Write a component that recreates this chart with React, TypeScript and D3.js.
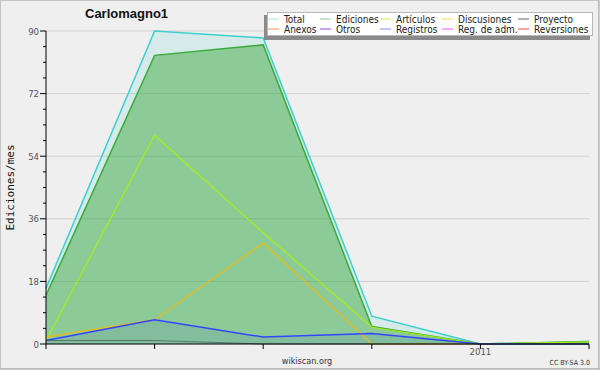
import React from "react";
import * as d3 from "d3";

const months = ["2010-09", "2010-10", "2010-11", "2010-12", "2011-01", "2011-02"];
const xTickLabels = ["", "", "", "", "2011", ""];
const total = [16, 90, 88, 8, 0, 0.7];
const ediciones = [14, 83, 86, 5, 0, 0.7];
const articulos = [1, 60, 32, 4.8, 0, 0.6];
const discusiones = [2, 7, 29, 0, 0, 0];
const registros = [1, 7, 2, 3, 0, 0];
const proyecto = [1, 1, 0, 0, 0, 0];
const yTicks = [0, 18, 36, 54, 72, 90];
const legendRow1 = ["Total", "Ediciones", "Artículos", "Discusiones", "Proyecto"];
const legendRow2 = ["Anexos", "Otros", "Registros", "Reg. de adm.", "Reversiones"];
const legendColors1 = ["#a8e8e4", "#88d088", "#c8ee55", "#ffd855", "#666666"];
const legendColors2 = ["#ff8a50", "#9944ee", "#8890ff", "#ee55ff", "#ff4444"];

const W = 600, H = 370;
const L = 46, R = 589, T = 31, B = 344;

export default function App() {
  const x = d3.scaleLinear().domain([0, months.length - 1]).range([L, R]);
  const y = d3.scaleLinear().domain([0, 90]).range([B, T]);
  const idx = months.map((_, i) => i);
  const line = (vals: number[]) =>
    d3.line<number>().x((i) => x(i)).y((i) => y(vals[i]))(idx) || "";
  const area = (vals: number[]) =>
    d3.area<number>().x((i) => x(i)).y0(y(0)).y1((i) => y(vals[i]))(idx) || "";
  const minor: number[] = [];
  for (let v = 0; v <= 90; v += 4.5) minor.push(v);
  const colX = [268, 320, 380, 442, 518];
  const font = "'DejaVu Sans Condensed', 'DejaVu Sans', sans-serif";

  return (
    <svg width={W} height={H} style={{ position: "absolute", left: 0, top: 0 }} fontFamily={font}>
      <rect x={0} y={0} width={W} height={H} fill="#efeff0" />
      <rect x={0.5} y={0.5} width={W - 2} height={H - 2} fill="none" stroke="#c4c4c4" />
      <line x1={W - 1} y1={0} x2={W - 1} y2={H} stroke="#b0b0b0" />
      <line x1={0} y1={H - 1} x2={W} y2={H - 1} stroke="#b0b0b0" />

      {yTicks.filter((v) => v > 0).map((v) => (
        <line key={v} x1={L} x2={R} y1={y(v)} y2={y(v)} stroke="#cfcfd2" />
      ))}

      <path d={area(total)} fill="#40d0c0" fillOpacity={0.15} />
      <path d={area(ediciones)} fill="#33a633" fillOpacity={0.45} />
      <path d={area(registros)} fill="#3a5fd0" fillOpacity={0.12} />

      <path d={line(total)} fill="none" stroke="#3dd0cc" strokeWidth={1.5} />
      <path d={line(ediciones)} fill="none" stroke="#3aaa3a" strokeWidth={1.5} />
      <path d={line(articulos)} fill="none" stroke="#aaee10" strokeWidth={1.2} />
      <path d={line(discusiones)} fill="none" stroke="#eebb10" strokeWidth={1.2} />
      <path d={line(registros)} fill="none" stroke="#3344ff" strokeWidth={1.5} />
      <path d={line(proyecto)} fill="none" stroke="#445555" strokeWidth={1} strokeOpacity={0.7} />

      <line x1={L} x2={L} y1={T} y2={B} stroke="#000" />
      {minor.map((v) => {
        const major = yTicks.includes(v);
        return <line key={v} x1={L - (major ? 6 : 3)} x2={L} y1={y(v)} y2={y(v)} stroke="#000" />;
      })}
      {yTicks.map((v) => (
        <text key={v} x={L - 7} y={y(v) + 3.5} fontSize={9.5} textAnchor="end" fill="#555">
          {v}
        </text>
      ))}
      <line x1={L} x2={R} y1={B} y2={B} stroke="#000" />
      {idx.map((i) => (
        <g key={i}>
          <line x1={x(i)} x2={x(i)} y1={B} y2={B + 5} stroke="#000" />
          {xTickLabels[i] && (
            <text x={x(i)} y={B + 11} fontSize={9.5} textAnchor="middle" fill="#555">
              {xTickLabels[i]}
            </text>
          )}
        </g>
      ))}

      <text
        transform={`translate(14,${(T + B) / 2}) rotate(-90)`}
        textAnchor="middle"
        fontSize={11}
        fontFamily="'DejaVu Sans Mono', monospace"
        fill="#111"
      >
        Ediciones/mes
      </text>

      <text x={85} y={18} fontSize={13} fontWeight="bold" fill="#111" fontFamily="'Liberation Sans', sans-serif">
        Carlomagno1
      </text>

      <text x={307} y={364} fontSize={9} textAnchor="middle" fill="#333">
        wikiscan.org
      </text>
      <text x={590} y={365} fontSize={7} textAnchor="end" fill="#333">
        CC BY-SA 3.0
      </text>

      <rect x={264} y={15} width={326} height={25} fill="#8a8a8a" />
      <rect x={267.5} y={12.5} width={325} height={23} fill="#ffffff" stroke="#b8b8b8" />
      {legendRow1.map((t, i) => (
        <g key={t}>
          <line x1={colX[i]} x2={colX[i] + 11} y1={19} y2={19} stroke={legendColors1[i]} />
          <text x={colX[i] + 16} y={22.5} fontSize={10} fill="#222">{t}</text>
        </g>
      ))}
      {legendRow2.map((t, i) => (
        <g key={t}>
          <line x1={colX[i]} x2={colX[i] + 11} y1={29} y2={29} stroke={legendColors2[i]} />
          <text x={colX[i] + 16} y={32.5} fontSize={10} fill="#222">{t}</text>
        </g>
      ))}
    </svg>
  );
}
